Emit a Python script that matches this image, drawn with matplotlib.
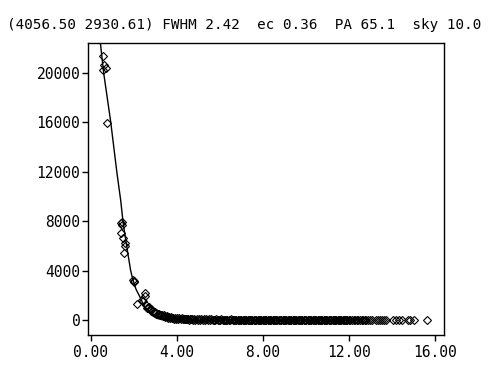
import matplotlib
matplotlib.use("Agg")
import matplotlib.pyplot as plt

title = "(4056.50 2930.61) FWHM 2.42  ec 0.36  PA 65.1  sky 10.0"

# Fitted profile (radius, counts)
fit_r = [0.38, 0.60, 0.93, 1.21, 1.39, 1.51, 1.70, 1.85, 1.95, 2.10, 2.28, 2.45,
         2.59, 2.80, 3.06, 3.30, 3.60, 4.50, 6.00, 10.00, 12.50]
fit_v = [23500, 20000, 16000, 12000, 9700, 7800, 5650, 4040, 3310, 2500, 1880, 1250,
         810, 420, 140, 30, 10, 0, 0, 0, 0]

# Measured pixels: core
head_r = [0.58, 0.58, 0.69, 0.62, 0.74, 1.43, 1.45, 1.47, 1.43, 1.50, 1.59, 1.60,
          1.56, 1.96, 1.99, 2.02, 2.13, 2.36, 2.50, 2.52, 2.45, 2.55, 2.62, 2.67,
          2.72, 2.78, 2.82, 2.88, 2.93, 2.98, 3.05, 3.12, 3.18, 3.25]
head_v = [21300, 20200, 20350, 20600, 15950, 7860, 7700, 7950, 7000, 6600, 6200, 6000,
          5440, 3250, 3150, 3050, 1300, 1620, 2150, 1900, 1550, 1250, 1000, 940,
          1050, 800, 850, 700, 680, 640, 560, 500, 460, 430]

# Measured pixels: wings
tail_r = [3.32, 3.36, 3.40, 3.44, 3.47, 3.52, 3.55, 3.60, 3.63, 3.68,
          3.72, 3.76, 3.80, 3.85, 3.90, 3.94, 3.99, 4.05, 4.12, 4.18,
          4.25, 4.30, 4.34, 4.38, 4.43, 4.47, 4.52, 4.57, 4.61, 4.66,
          4.70, 4.75, 4.80, 4.86, 4.92, 4.97, 5.03, 5.08, 5.14, 5.20,
          5.26, 5.31, 5.37, 5.43, 5.48, 5.54, 5.60, 5.66, 5.72, 5.77,
          5.83, 5.89, 5.95, 6.01, 6.06, 6.12, 6.18, 6.24, 6.30, 6.35,
          6.41, 6.47, 6.53, 6.59, 6.64, 6.70, 6.76, 6.82, 6.88, 6.93,
          6.99, 7.05, 7.11, 7.17, 7.22, 7.28, 7.34, 7.40, 7.46, 7.51,
          7.57, 7.63, 7.69, 7.75, 7.80, 7.86, 7.92, 7.98, 8.04, 8.09,
          8.15, 8.21, 8.27, 8.33, 8.38, 8.44, 8.50, 8.56, 8.62, 8.67,
          8.73, 8.79, 8.85, 8.91, 8.96, 9.02, 9.08, 9.14, 9.20, 9.25,
          9.31, 9.37, 9.43, 9.49, 9.54, 9.60, 9.66, 9.72, 9.78, 9.83,
          9.89, 9.95, 10.01, 10.07, 10.12, 10.18, 10.24, 10.30, 10.36, 10.41,
          10.47, 10.53, 10.59, 10.65, 10.70, 10.76, 10.82, 10.88, 10.94, 10.99,
          11.05, 11.11, 11.17, 11.23, 11.28, 11.34, 11.40, 11.46, 11.52, 11.57,
          11.63, 11.69, 11.75, 11.81, 11.86, 11.92, 11.98, 12.05, 12.12, 12.20,
          12.28, 12.35, 12.42, 12.50, 12.58, 12.66, 12.72, 12.80, 12.88, 12.96, 13.05,
          13.25, 13.33, 13.42, 13.52, 13.62, 13.72, 14.05, 14.18, 14.30, 14.45,
          14.75, 14.82, 15.00, 15.60]
tail_v = [420, 300, 380, 250, 330, 210, 290, 180, 260, 150,
          230, 140, 200, 120, 180, 100, 160, 90, 150, 80,
          140, 70, 120, 60, 110, 50, 100, 40, 90, 60,
          80, 30, 90, 40, 70, 20, 80, 30, 60, 40,
          70, 20, 60, 10, 50, 30, 60, 10, 40, 20,
          50, 10, 40, 0, 60, 20, 30, 10, 40, 0,
          30, -10, 50, 20, 10, 40, 0, 30, 10, 20,
          40, 0, 20, 10, 30, -10, 20, 40, 0, 10,
          30, 10, 0, 20, 40, 10, -10, 30, 10, 20,
          0, 30, 10, 20, -10, 30, 10, 0, 20, 40,
          10, 20, -10, 30, 0, 20, 10, 30, 0, 10,
          20, 0, 30, 10, -10, 20, 10, 0, 30, 10,
          0, 20, 10, -10, 30, 10, 0, 20, 10, 30,
          10, -10, 20, 0, 30, 10, 20, -10, 10, 0,
          20, 10, 0, 30, -10, 10, 20, 0, 10, -10,
          10, 0, 20, -10, 10, 0, 20, 10, -10, 0,
          10, 0, -10, 20, 0, 10, -10, 0, 10, -10, 0,
          0, -10, 10, -20, 0, -10, 10, -10, -10, 0,
          -20, 0, -10, -30]

xticks = [0, 4, 8, 12, 16]
xtick_labels = ["0.00", "4.00", "8.00", "12.00", "16.00"]
yticks = [0, 4000, 8000, 12000, 16000, 20000]
ytick_labels = ["0", "4000", "8000", "12000", "16000", "20000"]

plt.rcParams['font.family'] = ['DejaVu Sans Mono']

fig = plt.figure(figsize=(4.97, 3.79), dpi=100)
ax = fig.add_axes([88/497, 1 - 335/379, (444-88)/497, (335-43)/379])

ax.plot(fit_r, fit_v, color='black', lw=1.0)
ax.plot(head_r + tail_r, head_v + tail_v, linestyle='none', marker='D',
        markersize=3.8, markerfacecolor='none', markeredgecolor='black', markeredgewidth=0.8)

ax.set_xlim(-0.125, 16.40)
ax.set_ylim(-1212, 22384)
ax.set_xticks(xticks)
ax.set_xticklabels(xtick_labels)
ax.set_yticks(yticks)
ax.set_yticklabels(ytick_labels)
ax.tick_params(axis='both', direction='out', length=4.5, width=1.0, labelsize=10.5,
               pad=1, colors='black')
ax.tick_params(axis='x', pad=3)
for s in ax.spines.values():
    s.set_linewidth(1.0)
    s.set_color('black')

fig.text(7/497, 1 - 29/379, title, fontsize=10.3, ha='left', va='baseline')

fig.savefig('out.png', dpi=100)
